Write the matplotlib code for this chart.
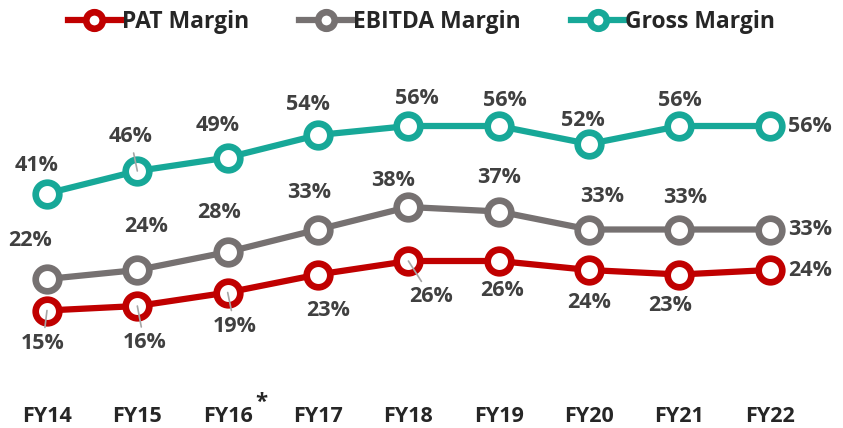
import matplotlib.pyplot as plt
import numpy as np

plt.rcParams['font.family'] = ['Open Sans', 'DejaVu Sans']

years = ['FY14', 'FY15', 'FY16', 'FY17', 'FY18', 'FY19', 'FY20', 'FY21', 'FY22']
pat = [15, 16, 19, 23, 26, 26, 24, 23, 24]
ebitda = [22, 24, 28, 33, 38, 37, 33, 33, 33]
gross = [41, 46, 49, 54, 56, 56, 52, 56, 56]

# label offsets in pixels (dx, dy), last point goes on the right
off_pat = [(-4, -33), (7, -37), (7, -34), (10, -36), (23, -36), (3, -30), (0, -32), (-9, -31)]
off_ebitda = [(-17, 38), (9, 43), (-9, 39), (-9, 37), (-15, 27), (0, 34), (13, 33), (6, 32)]
off_gross = [(-10, 28), (-7, 34), (-10, 32), (-10, 30), (8, 27), (6, 26), (-6, 24), (0, 26)]
leader_pat = [0, 1, 2, 4]
leader_gross = [1]

red = '#C00000'
grey = '#767171'
teal = '#17A898'
txt = '#404040'

fig = plt.figure(figsize=(8.43, 4.28), dpi=100)
ax = fig.add_axes([1.8 / 843, 50 / 428, (815 - 1.8) / 843, 278 / 428])
x = np.arange(len(years))

def draw(vals, col, name, offs, leaders):
    ax.plot(x, vals, color=col, lw=4.5, marker='o', ms=17, mfc='white',
            mec=col, mew=4.8, label=name, zorder=3, clip_on=False)
    for i, v in enumerate(vals[:-1]):
        dx, dy = offs[i]
        ap = None
        if i in leaders:
            ap = dict(arrowstyle='-', color='#A6A6A6', lw=1.2, shrinkA=2, shrinkB=0)
        ax.annotate(f'{v}%', (x[i], v), xytext=(dx, dy), textcoords='offset pixels',
                    ha='center', va='center', fontsize=15.5, fontweight='bold',
                    color=txt, arrowprops=ap, zorder=4)
    ax.annotate(f'{vals[-1]}%', (x[-1], vals[-1]), xytext=(18, 0),
                textcoords='offset pixels', ha='left', va='center', fontsize=15.5,
                fontweight='bold', color=txt, annotation_clip=False)

draw(pat, red, 'PAT Margin', off_pat, leader_pat)
draw(ebitda, grey, 'EBITDA Margin', off_ebitda, [])
draw(gross, teal, 'Gross Margin', off_gross, leader_gross)

ax.set_xlim(-0.5, 8.5)
ax.set_ylim(0, 278 / 4.5)
ax.set_yticks([])
ax.set_xticks(x)
ax.set_xticklabels(years, fontsize=15.5, fontweight='bold', color='#262626')
ax.tick_params(axis='x', length=0, pad=20)
for s in ax.spines.values():
    s.set_visible(False)

ax.annotate('*', (2, 0), xytext=(34, -24), textcoords='offset pixels',
            ha='center', va='center', fontsize=16, fontweight='bold', color='#262626',
            annotation_clip=False)

leg = fig.legend(*ax.get_legend_handles_labels(), loc='upper center', ncol=3,
                 bbox_to_anchor=(0.5, 1.025), frameon=False, handlelength=2.3,
                 columnspacing=2.2, handletextpad=0.05, markerscale=0.7,
                 prop=dict(size=16.5, weight='bold'))
for t in leg.get_texts():
    t.set_color('#262626')

fig.savefig('out.png', dpi=100)
